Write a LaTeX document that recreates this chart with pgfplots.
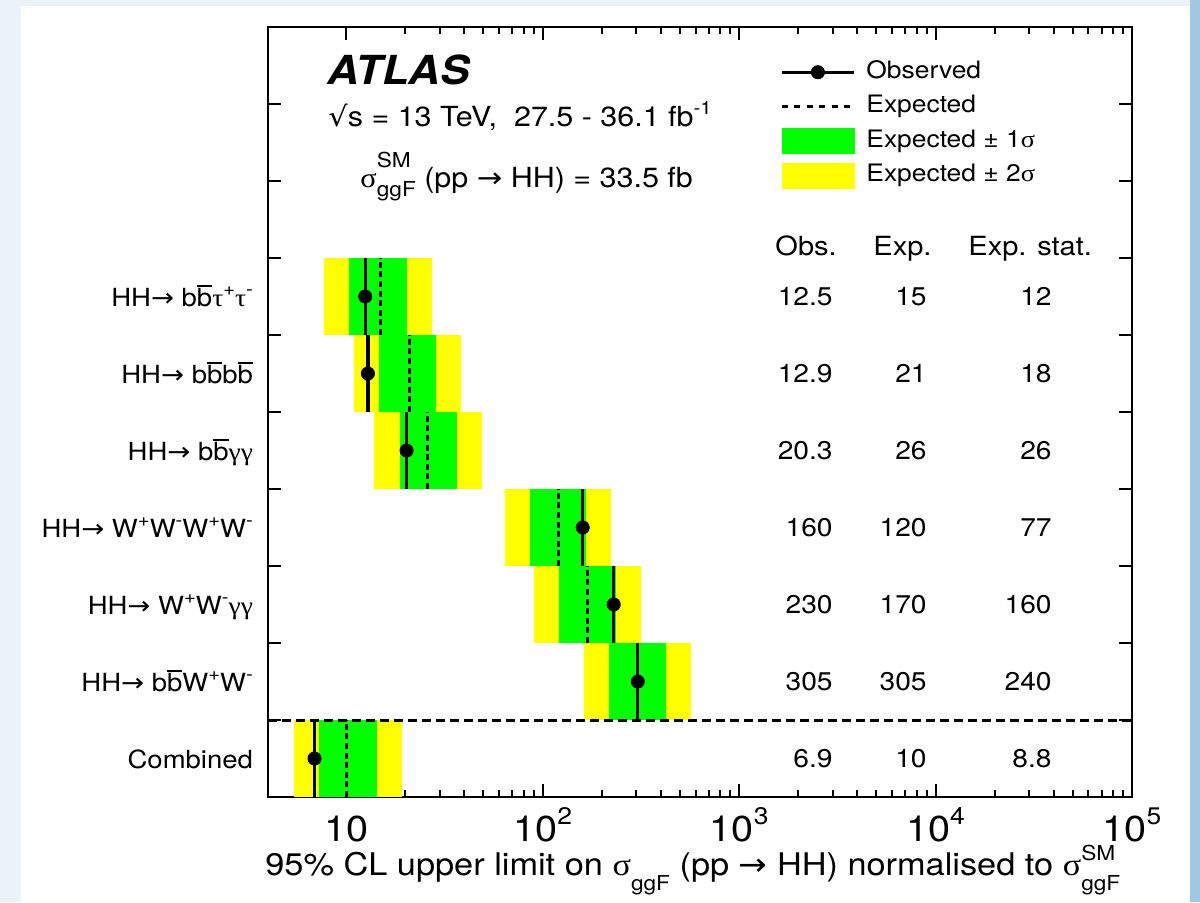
\documentclass[border=0pt]{standalone}
\usepackage{fontspec}
\setmainfont[FakeStretch=1.1]{TeX Gyre Heros}
\newfontfamily\grk[FakeStretch=1.1]{Liberation Serif}
\newfontfamily\sym[FakeStretch=1.1]{DejaVu Sans}
\usepackage{pgfplots}
\pgfplotsset{compat=1.18}
\definecolor{bandgreen}{RGB}{0,255,0}
\definecolor{bandyellow}{RGB}{255,255,0}
\definecolor{slidebg}{RGB}{234,243,250}
\definecolor{slideedge}{RGB}{160,200,228}
\newcommand\txt{\fontsize{13.85}{16}\selectfont}
\newcommand\rowf{\fontsize{12.5}{15}\selectfont}
\newcommand\numf{\fontsize{12.8}{15}\selectfont}
\newcommand\hdrf{\fontsize{13.2}{15}\selectfont}
\newcommand\legf{\fontsize{12}{14}\selectfont}
\newcommand\labf{\fontsize{15.6}{18}\selectfont}
\newcommand\tickf{\fontsize{18}{20}\selectfont}
\newcommand\scr{\fontsize{10.3}{10.3}\selectfont}
\newcommand\sups[1]{\raisebox{0.42em}{\fontsize{9.2}{9.2}\selectfont #1}}
\newcommand\tsup[1]{\raisebox{0.45em}{\fontsize{12}{12}\selectfont #1}}
\newcommand\bbar{\leavevmode\setbox0\hbox{b}\rlap{\rule[0.78em]{\wd0}{0.07em}}b}
\newcommand\gtau{{\grk τ}}
\newcommand\ggam{{\grk γ}}
\newcommand\gsig{{\grk σ}}
\newcommand\arr{{\sym →}}
\begin{document}
\begin{tikzpicture}[x=0.5pt,y=0.5pt]
\useasboundingbox (0,0) rectangle (1200,902);
\fill[slidebg] (0,0) rectangle (1200,902);
\fill[slideedge] (1190,0) rectangle (1200,902);
\fill[white] (21,0) rectangle (1190,896);
\begin{axis}[
  at={(134pt,52.5pt)}, anchor=south west,
  scale only axis, width=432pt, height=385pt,
  xmode=log, xmin=4, xmax=100000, ymin=0, ymax=10,
  axis line style={line width=1pt},
  every tick/.style={black, line width=1pt},
  tick align=inside,
  major tick length=6.5pt, minor tick length=3.5pt,
  xtick pos=both, ytick pos=both,
  xtick={10,100,1000,10000,100000},
  xticklabels={10,10\tsup{2},10\tsup{3},10\tsup{4},10\tsup{5}},
  xticklabel style={font=\tickf, anchor=base, yshift=-22pt},
  ytick={1,2,3,4,5,6,7,8,9},
  yticklabels={},
  extra y ticks={0.5,1.5,2.5,3.5,4.5,5.5,6.5},
  extra y tick labels={Combined,
    HH\arr{} b\bbar W\sups{+}W\sups{-},
    HH\arr{} W\sups{+}W\sups{-}\ggam\ggam,
    HH\arr{} W\sups{+}W\sups{-}W\sups{+}W\sups{-},
    HH\arr{} b\bbar\ggam\ggam,
    HH\arr{} b\bbar b\bbar,
    HH\arr{} b\bbar\gtau\sups{+}\gtau\sups{-}},
  extra y tick style={major tick length=0pt,
    yticklabel style={font=\rowf, anchor=base east, xshift=-4pt, yshift=-4.8pt}},
  xlabel={95\% CL upper limit on \gsig\raisebox{-7.5pt}{\scr ggF} (pp \arr{} HH) normalised to \gsig\rlap{\raisebox{7.5pt}{\scr SM}}\raisebox{-7.5pt}{\scr ggF}},
  xlabel style={at={(axis description cs:-0.0035,-0.1013)}, anchor=base west, font=\labf, inner sep=0pt},
  legend style={at={(axis description cs:0.5926,0.874)}, anchor=west, draw=none, fill=none,
    inner sep=0pt, font=\legf, nodes={inner sep=0pt, text height=9.5pt, text depth=3pt},
    row sep=4.5pt, column sep=5.5pt},
  legend cell align=left,
]
% +-2 sigma bands
\addplot[fill=bandyellow, draw=none, forget plot] coordinates {(7.7,6) (27.3,6) (27.3,7) (7.7,7)} --cycle;
\addplot[fill=bandyellow, draw=none, forget plot] coordinates {(11.0,5) (38.5,5) (38.5,6) (11.0,6)} --cycle;
\addplot[fill=bandyellow, draw=none, forget plot] coordinates {(13.9,4) (49.1,4) (49.1,5) (13.9,5)} --cycle;
\addplot[fill=bandyellow, draw=none, forget plot] coordinates {(64.4,3) (222,3) (222,4) (64.4,4)} --cycle;
\addplot[fill=bandyellow, draw=none, forget plot] coordinates {(90.8,2) (317,2) (317,3) (90.8,3)} --cycle;
\addplot[fill=bandyellow, draw=none, forget plot] coordinates {(162.6,1) (570,1) (570,2) (162.6,2)} --cycle;
\addplot[fill=bandyellow, draw=none, forget plot] coordinates {(5.44,0) (19.2,0) (19.2,1) (5.44,1)} --cycle;
% +-1 sigma bands
\addplot[fill=bandgreen, draw=none, forget plot] coordinates {(10.35,6) (20.4,6) (20.4,7) (10.35,7)} --cycle;
\addplot[fill=bandgreen, draw=none, forget plot] coordinates {(14.7,5) (28.7,5) (28.7,6) (14.7,6)} --cycle;
\addplot[fill=bandgreen, draw=none, forget plot] coordinates {(18.7,4) (36.5,4) (36.5,5) (18.7,5)} --cycle;
\addplot[fill=bandgreen, draw=none, forget plot] coordinates {(86.3,3) (166,3) (166,4) (86.3,4)} --cycle;
\addplot[fill=bandgreen, draw=none, forget plot] coordinates {(121.4,2) (236.6,2) (236.6,3) (121.4,3)} --cycle;
\addplot[fill=bandgreen, draw=none, forget plot] coordinates {(217.8,1) (423,1) (423,2) (217.8,2)} --cycle;
\addplot[fill=bandgreen, draw=none, forget plot] coordinates {(7.31,0) (14.3,0) (14.3,1) (7.31,1)} --cycle;
% expected
\addplot[black, line width=1.5pt, dash pattern=on 3pt off 1.8pt, forget plot] coordinates {(15,6) (15,7)};
\addplot[black, line width=1.5pt, dash pattern=on 3pt off 1.8pt, forget plot] coordinates {(21,5) (21,6)};
\addplot[black, line width=1.5pt, dash pattern=on 3pt off 1.8pt, forget plot] coordinates {(26,4) (26,5)};
\addplot[black, line width=1.5pt, dash pattern=on 3pt off 1.8pt, forget plot] coordinates {(120,3) (120,4)};
\addplot[black, line width=1.5pt, dash pattern=on 3pt off 1.8pt, forget plot] coordinates {(170,2) (170,3)};
\addplot[black, line width=1.5pt, dash pattern=on 3pt off 1.8pt, forget plot] coordinates {(305,1) (305,2)};
\addplot[black, line width=1.5pt, dash pattern=on 3pt off 1.8pt, forget plot] coordinates {(10,0) (10,1)};
% observed
\addplot[black, line width=1.6pt, forget plot] coordinates {(12.5,6) (12.5,7)};
\addplot[black, line width=1.6pt, forget plot] coordinates {(12.9,5) (12.9,6)};
\addplot[black, line width=1.6pt, forget plot] coordinates {(20.3,4) (20.3,5)};
\addplot[black, line width=1.6pt, forget plot] coordinates {(160,3) (160,4)};
\addplot[black, line width=1.6pt, forget plot] coordinates {(230,2) (230,3)};
\addplot[black, line width=1.6pt, forget plot] coordinates {(305,1) (305,2)};
\addplot[black, line width=1.6pt, forget plot] coordinates {(6.9,0) (6.9,1)};
% separator
\addplot[black, line width=1.5pt, dash pattern=on 4.5pt off 2.5pt, forget plot] coordinates {(4,1) (100000,1)};
% markers
\addplot[only marks, mark=*, mark size=3.3pt, black, forget plot] coordinates {
 (12.5,6.5) (12.9,5.5) (20.3,4.5) (160,3.5) (230,2.5) (305,1.5) (6.9,0.5)};
% legend
\addlegendimage{legend image code/.code={\draw[black,line width=1.5pt] (0pt,0pt)--(36pt,0pt); \fill[black] (18pt,0pt) circle (3.3pt);}}
\addlegendentry{Observed}
\addlegendimage{legend image code/.code={\draw[black,line width=1.5pt,dash pattern=on 3pt off 3.2pt] (0pt,0pt)--(36pt,0pt);}}
\addlegendentry{Expected}
\addlegendimage{legend image code/.code={\fill[bandgreen] (0pt,-6.25pt) rectangle (36pt,6.25pt);}}
\addlegendentry{Expected ± 1\gsig}
\addlegendimage{legend image code/.code={\fill[bandyellow] (0pt,-6.25pt) rectangle (36pt,6.25pt);}}
\addlegendentry{Expected ± 2\gsig}
\end{axis}
% annotations
\node[anchor=base west, inner sep=0pt, font=\fontsize{20}{22}\selectfont\bfseries\itshape] at (327,817) {ATLAS};
\node[anchor=base west, inner sep=0pt, font=\txt] at (328,776) {{\sym √}s = 13 TeV,\ \ 27.5 - 36.1 fb\sups{-1}};
\node[anchor=base west, inner sep=0pt, font=\txt] at (360,714) {\gsig\rlap{\raisebox{10pt}{\scr SM}}\raisebox{-4.5pt}{\scr ggF} (pp \arr{} HH) = 33.5 fb};
\node[anchor=base west, inner sep=0pt, font=\hdrf] at (775,647) {Obs.};
\node[anchor=base west, inner sep=0pt, font=\hdrf] at (873,647) {Exp.};
\node[anchor=base west, inner sep=0pt, font=\hdrf] at (968,647) {Exp. stat.};
\foreach \yy/\o/\e/\s in {596.5/12.5/15/12, 519.5/12.9/21/18, 442.5/20.3/26/26, 365.5/160/120/77, 288.5/230/170/160, 211.5/305/305/240, 134.5/6.9/10/8.8}{
  \node[anchor=base east, inner sep=0pt, font=\numf] at (833,\yy) {\o};
  \node[anchor=base east, inner sep=0pt, font=\numf] at (927,\yy) {\e};
  \node[anchor=base east, inner sep=0pt, font=\numf] at (1052,\yy) {\s};
}
\end{tikzpicture}
\end{document}
